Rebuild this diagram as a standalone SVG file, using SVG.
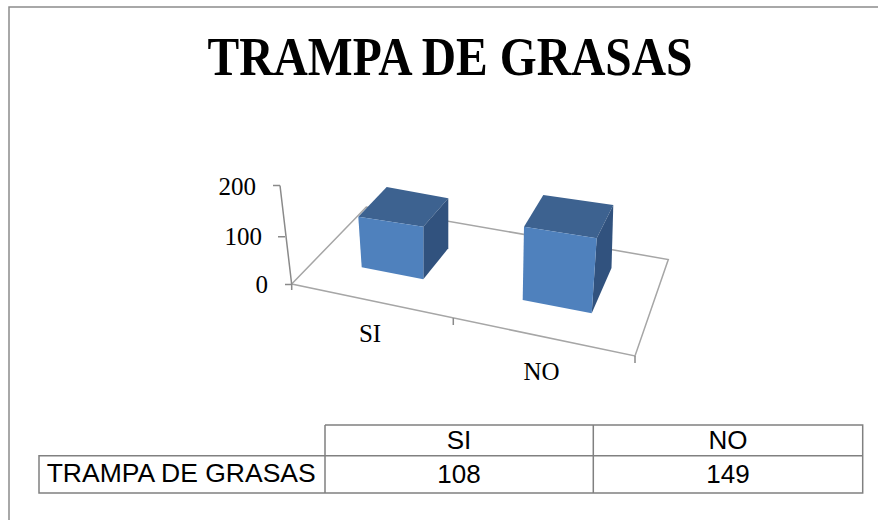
<svg xmlns="http://www.w3.org/2000/svg" width="878" height="520" viewBox="0 0 878 520">
<style>
.serif{font-family:"Liberation Serif","Times New Roman",serif;fill:#000}
.sans{font-family:"Liberation Sans",Arial,sans-serif;fill:#000;font-size:26px}
.axis{stroke:#8a8a8a;stroke-width:1.5;fill:none}
.floor{stroke:#a6a6a6;stroke-width:1.5;fill:none}
.front{fill:#4f81bd}
.top{fill:#3d6290}
.side{fill:#31527e}
.grid{stroke:#808080;stroke-width:1.5;fill:none}
</style>
<rect width="878" height="520" fill="#fff"/>
<path d="M9 520 V7 H878" stroke="#8c8c8c" stroke-width="1.5" fill="none"/>
<g id="title">
<text class="serif" x="450" y="75" font-size="54" font-weight="bold" text-anchor="middle" textLength="485" lengthAdjust="spacingAndGlyphs">TRAMPA DE GRASAS</text>
</g>
<g id="axes">
<path class="floor" d="M291.7 284 L366.3 207 L668.3 259.5 L635 356 Z"/>
<path class="axis" d="M280 185.5 L291.7 284.5 M273 185.5 H280 M278 236.7 H285 M285 284.5 H292.5 M291.7 284.5 V290 M453.3 318 V325 M635 356 V363"/>
<g class="serif" font-size="25" text-anchor="end">
<text x="256" y="195">200</text>
<text x="262" y="245">100</text>
<text x="268" y="293">0</text>
</g>
<text class="serif" font-size="25" x="370" y="342" text-anchor="middle">SI</text>
<text class="serif" font-size="25" x="541.5" y="380" text-anchor="middle">NO</text>
</g>
<g id="bar-si">
<polygon class="top" points="358.3,216.7 386.7,187 448.3,198.3 423.3,226.7"/>
<polygon class="side" points="423.3,226.7 448.3,198.3 448.3,248.3 423.3,279.3"/>
<polygon class="front" points="358.3,216.7 423.3,226.7 423.3,279.3 361.7,267.3"/>
</g>
<g id="bar-no">
<polygon class="top" points="524,226.7 543.3,195 613.3,205 596.7,238.3"/>
<polygon class="side" points="596.7,238.3 613.3,205 611.5,268 591.7,313.3"/>
<polygon class="front" points="524,226.7 596.7,238.3 591.7,313.3 522.7,300"/>
</g>
<g id="table">
<path class="grid" d="M325 425 H862.7 V493 H39 V455.7 H862.7 M325 425 V493 M593.3 425 V493"/>
<text class="sans" x="459" y="449" text-anchor="middle">SI</text>
<text class="sans" x="728" y="449" text-anchor="middle">NO</text>
<text class="sans" x="46.7" y="482" textLength="269" lengthAdjust="spacingAndGlyphs">TRAMPA DE GRASAS</text>
<text class="sans" x="459" y="483" text-anchor="middle">108</text>
<text class="sans" x="728" y="483" text-anchor="middle">149</text>
</g>
</svg>
